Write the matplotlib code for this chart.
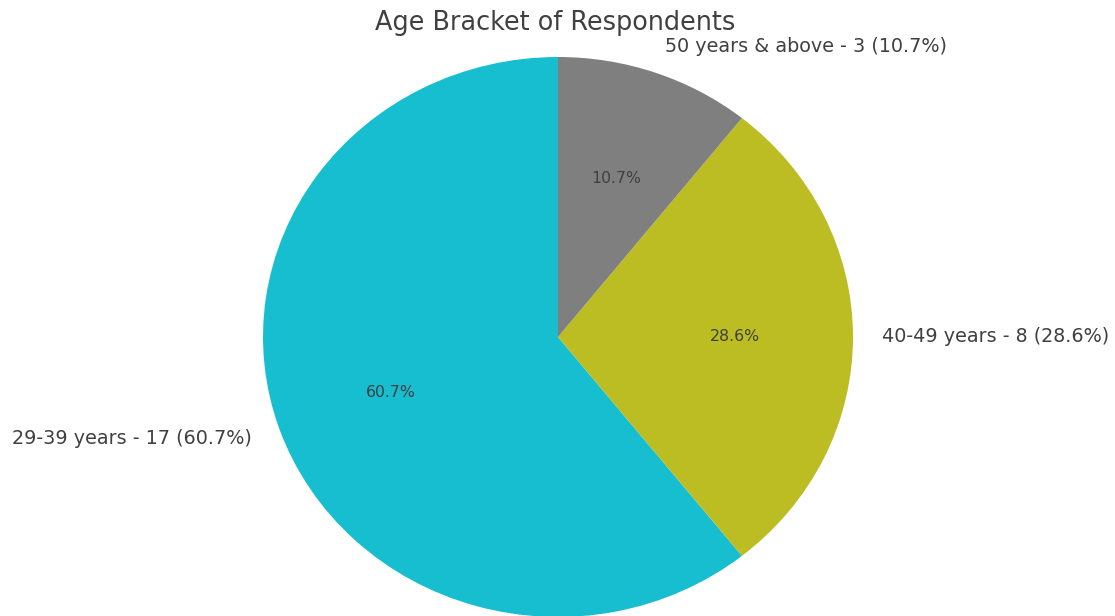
import matplotlib
matplotlib.use("Agg")
import matplotlib.pyplot as plt

labels = ["29-39 years", "40-49 years", "50 years & above"]
counts = [17, 8, 3]
colors = ["#17becf", "#bcbd22", "#7f7f7f"]

total = sum(counts)
pie_labels = ["%s - %d (%.1f%%)" % (l, c, 100.0 * c / total) for l, c in zip(labels, counts)]

plt.rcParams['text.color'] = '#404040'

fig = plt.figure(figsize=(11.15, 6.16), dpi=100)
ax = fig.add_axes([0, 0, 1, 1])

wedges, texts, autotexts = ax.pie(counts, labels=pie_labels, colors=colors,
                                  autopct='%1.1f%%', startangle=90,
                                  textprops={'fontsize': 13.8, 'color': '#404040'})
for t in autotexts:
    t.set_fontsize(11.3)

# pie is slightly stretched: ~295 px wide radius, ~280 px tall, centre (558, 337)
rx = 295.0
ry = 280.0
ax.set_aspect('auto')
ax.set_xlim(-558 / rx, (1115 - 558) / rx)
ax.set_ylim(-(616 - 337) / ry, 337 / ry)

fig.text(0.498, 0.963, "Age Bracket of Respondents", ha='center', va='center',
         fontsize=18.4, color='#404040')

fig.savefig('out.png', dpi=100)
